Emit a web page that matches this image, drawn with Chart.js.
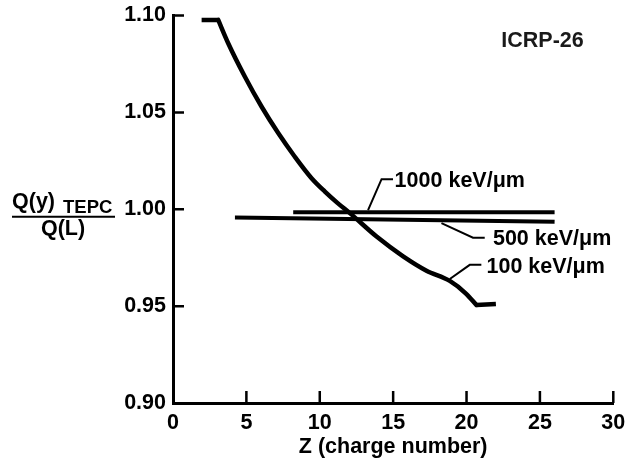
<!DOCTYPE html>
<html>
<head>
<meta charset="utf-8">
<title>Q(y) TEPC / Q(L) vs Z</title>
<script src="https://cdn.jsdelivr.net/npm/chart.js@4/dist/chart.umd.min.js"></script>
<style>
    html, body { margin: 0; padding: 0; background: #fff; }
    #wrap { width: 626px; height: 465px; position: relative; }
</style>
</head>
<body>
<div id="wrap"><canvas id="qChart"></canvas></div>
<script>
// Ratio of TEPC-derived quality factor to Q(L), by ion charge number
const z100 = [1.95, 3.08, 3.76, 4.9, 6.04, 7.18, 8.3, 9.44, 10.35, 11.2, 12.05, 13.87, 15.68, 17.27, 18.86, 19.96, 20.67, 22.0];
const q100 = [1.0977, 1.0977, 1.0857, 1.0684, 1.0529, 1.0392, 1.0271, 1.016, 1.0091, 1.0033, 0.998, 0.9859, 0.9757, 0.9683, 0.9630, 0.9565, 0.9506, 0.9511];

const z500 = [4.22, 26.0];
const q500 = [0.9957, 0.9936];

const z1000 = [8.19, 26.0];
const q1000 = [0.9985, 0.9985];

const xTicks = [0, 5, 10, 15, 20, 25, 30];
const yTicks = [0.90, 0.95, 1.00, 1.05, 1.10];

const FONT = "'Liberation Sans', Arial, Helvetica, sans-serif";
const FS = 21.5;

// curve labels with their leader lines (data units)
const callouts = [
    { text: '1000 keV/\u03BCm', at: [15.1, 1.0115], leader: [[13.29, 0.9995], [14.21, 1.0155], [14.99, 1.0155]] },
    { text: '500 keV/\u03BCm',  at: [21.8, 0.9816], leader: [[18.29, 0.9928], [20.44, 0.9853], [21.24, 0.9853]] },
    { text: '100 keV/\u03BCm',  at: [21.36, 0.9671], leader: [[18.86, 0.9640], [20.22, 0.9713], [21.01, 0.9713]] }
];

function toPoints(xs, ys) {
    return xs.map((x, i) => ({ x: x, y: ys[i] }));
}

function lineSet(points, width, smooth) {
    return {
        data: points,
        showLine: true,
        borderColor: '#000',
        borderWidth: width,
        pointRadius: 0,
        tension: 0,
        cubicInterpolationMode: smooth ? 'monotone' : 'default',
        borderCapStyle: smooth ? 'round' : 'butt',
        borderJoinStyle: 'round'
    };
}

// 100 keV/um curve: flat shoulders at each end, smooth fall between
const pts100 = toPoints(z100, q100);
const last = pts100.length - 1;

// inward tick marks, callouts and the stacked y-axis title
const annotate = {
    id: 'annotate',
    afterDraw(chart) {
        const ctx = chart.ctx;
        const xs = chart.scales.x;
        const ys = chart.scales.y;
        const area = chart.chartArea;

        ctx.save();
        ctx.strokeStyle = '#000';
        ctx.lineWidth = 2.5;
        ctx.beginPath();
        xTicks.slice(1).forEach(v => {
            const px = xs.getPixelForValue(v);
            ctx.moveTo(px, area.bottom);
            ctx.lineTo(px, area.bottom - 12);
        });
        yTicks.slice(1).forEach(v => {
            const py = ys.getPixelForValue(v);
            ctx.moveTo(area.left, py);
            ctx.lineTo(area.left + 11, py);
        });
        ctx.stroke();

        // leaders and labels
        ctx.lineWidth = 2;
        ctx.lineJoin = 'miter';
        ctx.font = 'bold ' + FS + 'px ' + FONT;
        ctx.fillStyle = '#000';
        ctx.textAlign = 'left';
        ctx.textBaseline = 'alphabetic';
        callouts.forEach(c => {
            ctx.beginPath();
            c.leader.forEach((p, i) => {
                const px = xs.getPixelForValue(p[0]);
                const py = ys.getPixelForValue(p[1]);
                if (i === 0) ctx.moveTo(px, py); else ctx.lineTo(px, py);
            });
            ctx.stroke();
            ctx.fillText(c.text, xs.getPixelForValue(c.at[0]), ys.getPixelForValue(c.at[1]));
        });

        ctx.fillStyle = '#1a1a1a';
        ctx.fillText('ICRP-26', xs.getPixelForValue(22.37), ys.getPixelForValue(1.0836));

        // y title: Q(y)_TEPC over Q(L)
        const y1 = ys.getPixelForValue(1.00);
        ctx.fillStyle = '#000';
        ctx.font = 'bold ' + FS + 'px ' + FONT;
        ctx.fillText('Q(y)', 12, y1 - 1);
        ctx.font = 'bold 18.5px ' + FONT;
        ctx.fillText('TEPC', 63, y1 + 4);
        ctx.fillRect(12, y1 + 6.5, 103, 2);
        ctx.font = 'bold ' + FS + 'px ' + FONT;
        ctx.textAlign = 'center';
        ctx.fillText('Q(L)', 63, y1 + 26);
        ctx.restore();
    }
};

function noEdgePadding(scale) {
    scale.paddingTop = 0;
    scale.paddingBottom = 0;
    scale.paddingLeft = 0;
    scale.paddingRight = 0;
}

const ctx = document.getElementById('qChart').getContext('2d');

new Chart(ctx, {
    type: 'scatter',
    data: {
        datasets: [
            lineSet(pts100.slice(0, 2), 4.5, false),
            lineSet(pts100.slice(1, last), 4.5, true),
            lineSet(pts100.slice(last - 1), 4.5, false),
            lineSet(toPoints(z500, q500), 4, false),
            lineSet(toPoints(z1000, q1000), 4, false)
        ]
    },
    options: {
        responsive: true,
        maintainAspectRatio: false,
        animation: false,
        layout: {
            padding: { top: 15.5, right: 12.7, bottom: 0, left: 0 }
        },
        scales: {
            x: {
                type: 'linear',
                min: 0,
                max: 30,
                afterFit: scale => { scale.height = 62; noEdgePadding(scale); },
                afterBuildTicks: scale => { scale.ticks = xTicks.map(v => ({ value: v })); },
                grid: { display: false, drawTicks: false },
                border: { display: true, color: '#000', width: 3 },
                ticks: {
                    color: '#000',
                    padding: 7,
                    maxRotation: 0,
                    font: { family: FONT, size: FS, weight: 'bold' }
                },
                title: {
                    display: true,
                    text: 'Z (charge number)',
                    color: '#000',
                    padding: { top: 0, bottom: 5 },
                    font: { family: FONT, size: FS, weight: 'bold' }
                }
            },
            y: {
                type: 'linear',
                min: 0.90,
                max: 1.10,
                afterFit: scale => { scale.width = 173; noEdgePadding(scale); },
                afterBuildTicks: scale => { scale.ticks = yTicks.map(v => ({ value: v })); },
                grid: { display: false, drawTicks: false },
                border: { display: true, color: '#000', width: 3 },
                ticks: {
                    color: '#000',
                    padding: 7,
                    font: { family: FONT, size: FS, weight: 'bold' },
                    callback: value => value.toFixed(2)
                }
            }
        },
        plugins: {
            legend: { display: false },
            tooltip: { enabled: false }
        }
    },
    plugins: [annotate]
});
</script>
</body>
</html>
